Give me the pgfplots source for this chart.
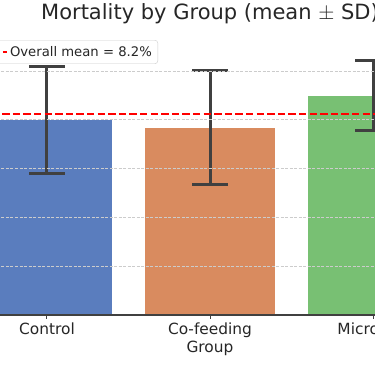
\documentclass[border=0pt]{standalone}
\usepackage{pgfplots}
\pgfplotsset{compat=1.18}
\usepackage{fontspec}
\setmainfont{DejaVu Sans}
\definecolor{cBlue}{HTML}{5A7DBE}
\definecolor{cOrange}{HTML}{D98B5F}
\definecolor{cGreen}{HTML}{78C073}
\definecolor{errc}{HTML}{404040}
\definecolor{txt}{HTML}{262626}
\definecolor{gridc}{HTML}{CCCCCC}
\definecolor{spine}{HTML}{404040}
\pgfplotsset{mylegend/.style={legend image code/.code={\draw[##1] (0pt,0pt) -- (26pt,0pt); \path (0pt,0pt) -- (36pt,0pt);}}}
\begin{document}
\begin{tikzpicture}[x=1pt,y=1pt]
\useasboundingbox (0,0) rectangle (375,366);
\clip (0,0) rectangle (375,366);
\begin{axis}[
  at={(-34.5pt,51pt)}, anchor=south west,
  scale only axis, width=489pt, height=281.8pt,
  xmin=-0.5, xmax=2.5, ymin=0, ymax=11.55,
  axis x line*=bottom, axis y line*=left,
  axis line style={draw=spine, line width=1.2pt},
  xtick={0,1,2}, xticklabels={Control,Co-feeding,Microdiet},
  ytick={0,2,4,6,8,10}, yticklabels={},
  tick align=inside, major tick length=4pt,
  tick style={draw=spine, line width=1pt},
  ymajorgrids, grid style={draw=gridc, line width=0.8pt, dash pattern=on 3pt off 1.5pt},
  axis on top,
  ticklabel style={font=\fontsize{15.4}{18}\selectfont, text=txt},
  xlabel={Group},
  xlabel style={font=\fontsize{15.4}{18}\selectfont, text=txt, yshift=3pt},
  title={Mortality by Group (mean $\pm$ SD)},
  title style={font=\fontsize{21}{25}\selectfont, text=txt, at={(0.5,1)}, anchor=base, yshift=7.2pt},
  ybar, bar width=0.8, bar shift=0pt,
  legend style={at={(0.3937,0.9758)}, anchor=north east, draw=gridc, fill=white,
    rounded corners=3pt, font=\fontsize{13.2}{16}\selectfont, text=txt,
    inner xsep=4pt, inner ysep=4pt, cells={anchor=west}},
  error bars/error bar style={draw=errc, line width=3pt},
  error bars/error mark options={draw=errc, line width=3pt, mark size=18pt, rotate=90},
]
\addplot[fill=cBlue, draw=white, line width=0.8pt, forget plot,
  error bars/.cd, y dir=both, y explicit]
  coordinates {(0,8.0) +- (0,2.2)};
\addplot[fill=cOrange, draw=white, line width=0.8pt, forget plot,
  error bars/.cd, y dir=both, y explicit]
  coordinates {(1,7.68) +- (0,2.35)};
\addplot[fill=cGreen, draw=white, line width=0.8pt, forget plot,
  error bars/.cd, y dir=both, y explicit]
  coordinates {(2,9.0) +- (0,1.42)};
\addplot[sharp plot, draw=red, line width=2pt, dash pattern=on 7.4pt off 3.2pt, mylegend]
  coordinates {(-0.6,8.23) (2.6,8.23)};
\addlegendentry{Overall mean = 8.2\%}
\end{axis}
\end{tikzpicture}
\end{document}
